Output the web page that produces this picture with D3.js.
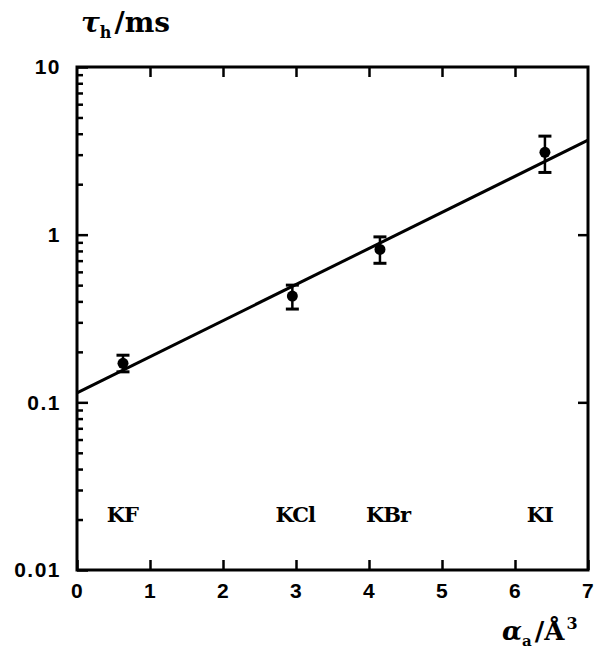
<!DOCTYPE html>
<html>
<head>
<meta charset="utf-8">
<script src="https://d3js.org/d3.v7.min.js"></script>
<style>
  body { margin: 0; background: #fff; }
  .tick text { font-family: "Liberation Sans", Arial, sans-serif; font-weight: bold; font-size: 21px; letter-spacing: 1.5px; fill: #000; }
  .salt { font-family: "DejaVu Serif", serif; font-weight: bold; font-size: 21px; letter-spacing: -1px; }
  .ttl { font-family: "DejaVu Serif", serif; font-weight: bold; }
</style>
</head>
<body>
<div id="chart"></div>
<script>
// measured points (x = polarizability, y = tau in ms)
const salts = ["KF", "KCl", "KBr", "KI"]
const alphaVals = [0.63, 2.95, 4.15, 6.41]
const tauVals = [0.171, 0.43, 0.817, 3.1]
const tauLow = [0.152, 0.36, 0.675, 2.35]
const tauHigh = [0.191, 0.50, 0.97, 3.87]
const saltLabelX = [0.62, 2.99, 4.26, 6.34]
const saltLabelY = 0.0215
// fitted line endpoints
const fitX = [0, 7]
const fitY = [0.114, 3.66]
const xTicks = [0, 1, 2, 3, 4, 5, 6, 7]
const yMajor = [0.01, 0.1, 1, 10]

const w = 598, h = 653
const margin = { top: 67, right: 10, bottom: 83, left: 77 }

const svg = d3.select("#chart").append("svg")
    .attr("width", w)
    .attr("height", h)

const x = d3.scaleLinear().domain([0, 7]).range([margin.left, w - margin.right])
const y = d3.scaleLog().domain([0.01, 10]).range([h - margin.bottom, margin.top])

let yAll = []
for (let d = 0.01; d < 10; d *= 10) {
    for (let k = 1; k < 10; k++) yAll.push(+(k * d).toPrecision(3))
}
yAll.push(10)

// bottom axis
const gx = svg.append("g")
    .attr("transform", "translate(0," + (h - margin.bottom) + ")")
    .call(d3.axisBottom(x).tickValues(xTicks).tickSize(-10).tickSizeOuter(0).tickPadding(13).tickFormat(d3.format("d")))
// top axis
const gxt = svg.append("g")
    .attr("transform", "translate(0," + margin.top + ")")
    .call(d3.axisTop(x).tickValues(xTicks.slice(1, 7)).tickSize(-10).tickSizeOuter(0).tickFormat(""))
// left axis
const gy = svg.append("g")
    .attr("transform", "translate(" + margin.left + ",0)")
    .call(d3.axisLeft(y).tickValues(yAll).tickSize(-11).tickSizeOuter(0).tickPadding(16)
        .tickFormat(d => yMajor.includes(d) ? (d >= 1 ? d3.format("d")(d) : String(d)) : ""))
gy.selectAll(".tick line")
    .attr("x2", d => yMajor.includes(d) ? 11 : 6)
// right axis
const gyr = svg.append("g")
    .attr("transform", "translate(" + (w - margin.right) + ",0)")
    .call(d3.axisRight(y).tickValues([0.1, 1]).tickSize(-10).tickSizeOuter(0).tickFormat(""))

svg.selectAll(".domain").remove()
svg.selectAll(".tick line").attr("stroke", "#000").attr("stroke-width", 2.5)

// frame
svg.append("rect")
    .attr("x", x(0))
    .attr("y", y(10))
    .attr("width", x(7) - x(0))
    .attr("height", y(0.01) - y(10))
    .attr("fill", "none")
    .attr("stroke", "#000")
    .attr("stroke-width", 3)

// fit line
svg.append("line")
    .attr("x1", x(fitX[0])).attr("y1", y(fitY[0]))
    .attr("x2", x(fitX[1])).attr("y2", y(fitY[1]))
    .attr("stroke", "#000")
    .attr("stroke-width", 3)

// error bars
const pts = alphaVals.map((a, i) => ({ a: a, t: tauVals[i], lo: tauLow[i], hi: tauHigh[i] }))
const eb = svg.append("g").attr("stroke", "#000").attr("stroke-width", 2.5)
eb.selectAll(".v").data(pts).enter().append("line")
    .attr("x1", d => x(d.a)).attr("x2", d => x(d.a))
    .attr("y1", d => y(d.lo)).attr("y2", d => y(d.hi))
eb.selectAll(".cl").data(pts).enter().append("line")
    .attr("x1", d => x(d.a) - 6.5).attr("x2", d => x(d.a) + 6.5)
    .attr("y1", d => y(d.lo)).attr("y2", d => y(d.lo))
    .attr("stroke-width", 3)
eb.selectAll(".ch").data(pts).enter().append("line")
    .attr("x1", d => x(d.a) - 6.5).attr("x2", d => x(d.a) + 6.5)
    .attr("y1", d => y(d.hi)).attr("y2", d => y(d.hi))
    .attr("stroke-width", 3)
svg.selectAll(".dot").data(pts).enter().append("circle")
    .attr("cx", d => x(d.a))
    .attr("cy", d => y(d.t))
    .attr("r", 5.5)
    .attr("fill", "#000")

// salt labels
svg.selectAll(".salt").data(salts).enter().append("text")
    .attr("class", "salt")
    .attr("x", (d, i) => x(saltLabelX[i]))
    .attr("y", y(saltLabelY))
    .attr("dy", "0.36em")
    .attr("text-anchor", "middle")
    .text(d => d)

// y title
const yt = svg.append("text").attr("class", "ttl").attr("x", 81).attr("y", 32).attr("font-size", 28)
yt.append("tspan").attr("font-style", "italic").text("τ")
yt.append("tspan").attr("font-size", 16).attr("dy", 6).text("h")
yt.append("tspan").attr("dy", -6).attr("dx", 3).text("/ms")

// x title
const xt = svg.append("text").attr("class", "ttl").attr("x", 502).attr("y", 640).attr("font-size", 26)
xt.append("tspan").attr("font-style", "italic").text("α")
xt.append("tspan").attr("font-size", 15).attr("dy", 6).text("a")
xt.append("tspan").attr("dy", -6).attr("dx", 3).text("/Å")
xt.append("tspan").attr("font-size", 16).attr("dy", -11).attr("dx", 2).text("3")
</script>
</body>
</html>
